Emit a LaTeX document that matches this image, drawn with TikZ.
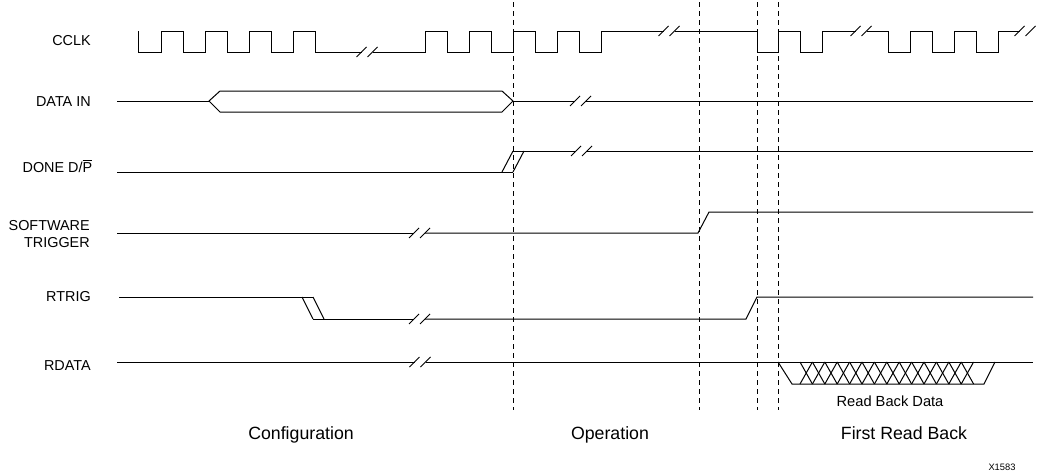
\documentclass[tikz,border=0pt]{standalone}
\usepackage{fontspec}
\setmainfont{Liberation Sans}
% break mark: two parallel slashes centred on (#1,#2)
\newcommand\sigbreak[2]{%
  \draw[brk] (#1-10.5,#2+5) -- (#1-0.5,#2-5) (#1+0.5,#2+5) -- (#1+10.5,#2-5);}
\begin{document}
\begin{tikzpicture}[x=0.75pt,y=-0.75pt,
  sig/.style={line width=0.75pt, line join=miter},
  brk/.style={line width=0.75pt},
  guide/.style={line width=0.75pt, dash pattern=on 3.75pt off 3pt},
  lbl/.style={font=\fontsize{10.8}{12}\selectfont, anchor=base east, inner sep=0pt},
  phase/.style={font=\fontsize{13.3}{15}\selectfont, anchor=base, inner sep=0pt},
  note/.style={font=\fontsize{11}{13}\selectfont, anchor=base, inner sep=0pt},
  tag/.style={font=\fontsize{7}{8}\selectfont, anchor=base, inner sep=0pt},
]
\useasboundingbox (0,0) rectangle (1044,475);

% signal names
\node[lbl] (lclk)  at (91,45)    {CCLK};
\node[lbl] (ldin)  at (91,106.5) {DATA IN};
\node[lbl] (ldone) at (92.5,172.5) {DONE D/$\overline{\hbox{P}}$};
\node[lbl] (lsw1)  at (90,230.5) {SOFTWARE};
\node[lbl] (lsw2)  at (90,247.3) {TRIGGER};
\node[lbl] (lrt)   at (91,301)   {RTRIG};
\node[lbl] (lrd)   at (91,370)   {RDATA};

% phase boundaries
\foreach \gx in {513,699,757,778}
  \draw[guide] (\gx,2) -- (\gx,410);

% CCLK
\draw[sig] (138,31) -- (138,52) -- (161,52) -- (161,31) -- (183,31) -- (183,52)
  -- (205,52) -- (205,31) -- (227,31) -- (227,52) -- (249,52) -- (249,31)
  -- (271,31) -- (271,52) -- (293,52) -- (293,31) -- (315,31) -- (315,52) -- (361.5,52);
\sigbreak{367}{52}
\draw[sig] (372.5,52) -- (425,52) -- (425,31) -- (447,31) -- (447,52) -- (469,52)
  -- (469,31) -- (491,31) -- (491,52) -- (513,52) -- (513,31) -- (535,31) -- (535,52)
  -- (557,52) -- (557,31) -- (579,31) -- (579,52) -- (601,52) -- (601,31) -- (663.5,31);
\sigbreak{669}{31}
\draw[sig] (674.5,31) -- (757,31) -- (757,52) -- (778,52) -- (778,31) -- (800,31)
  -- (800,52) -- (822,52) -- (822,31) -- (855.5,31);
\sigbreak{861}{31}
\draw[sig] (866.5,31) -- (888,31) -- (888,52) -- (910,52) -- (910,31) -- (932,31)
  -- (932,52) -- (954,52) -- (954,31) -- (976,31) -- (976,52) -- (998,52)
  -- (998,31) -- (1019.5,31);
\sigbreak{1025}{31}

% DATA IN
\draw[sig] (117,101) -- (209,101);
\draw[sig] (209,101) -- (220,91) -- (502,91) -- (513,101) -- (502,112) -- (220,112) -- cycle;
\draw[sig] (513,101) -- (575,101);
\sigbreak{580.5}{101}
\draw[sig] (586,101) -- (1033,101);

% DONE D/P
\draw[sig] (117,172) -- (513,172);
\draw[sig] (502,172) -- (513,151);
\draw[sig] (513,172) -- (524,151);
\draw[sig] (513,151) -- (576,151);
\sigbreak{581.5}{151}
\draw[sig] (587,151) -- (1033,151);

% SOFTWARE TRIGGER
\draw[sig] (117,233) -- (414,233);
\sigbreak{419.5}{233}
\draw[sig] (425,233) -- (698,233) -- (709,212) -- (1033,212);

% RTRIG
\draw[sig] (119,297) -- (313,297);
\draw[sig] (302,297) -- (313,319);
\draw[sig] (313,297) -- (324,319);
\draw[sig] (313,319) -- (414,319);
\sigbreak{419.5}{319}
\draw[sig] (425,319) -- (746,319) -- (757,297) -- (1033,297);

% RDATA
\draw[sig] (117,362) -- (414.5,362);
\sigbreak{420}{362}
\draw[sig] (425.5,362) -- (1033,362);
\draw[sig] (778,362) -- (792,384) -- (984,384) -- (995,362);
\foreach \k in {0,...,13}{
  \draw[sig] (800+12.4*\k,362) -- (800+12.4*\k+12.4,384);
  \draw[sig] (800+12.4*\k,384) -- (800+12.4*\k+12.4,362);
}
\node[note] (rbd) at (890,406.7) {Read Back Data};

% phase names
\node[phase] (pcfg) at (301,439) {Configuration};
\node[phase] (pop)  at (610,439) {Operation};
\node[phase] (pfrb) at (904,439) {First Read Back};

\node[tag] (fig) at (1002,470) {X1583};
\end{tikzpicture}
\end{document}
